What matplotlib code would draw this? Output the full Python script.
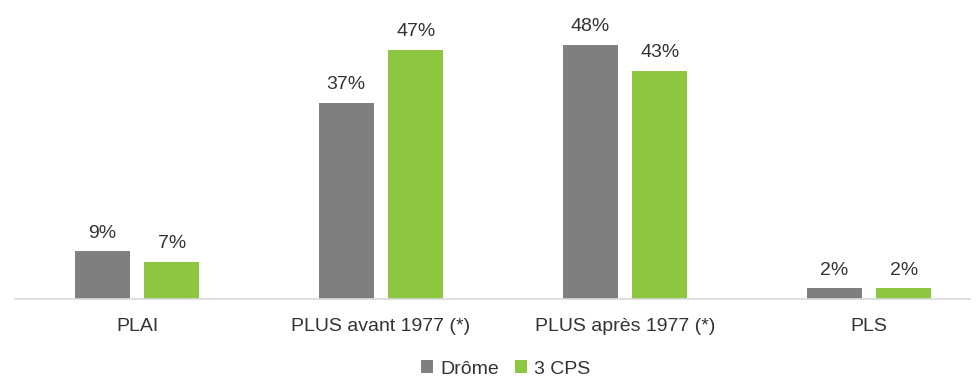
import matplotlib
matplotlib.use("Agg")
import matplotlib.pyplot as plt
import numpy as np

categories = ["PLAI", "PLUS avant 1977 (*)", "PLUS après 1977 (*)", "PLS"]
drome = [9, 37, 48, 2]
cps = [7, 47, 43, 2]
series_names = ["Drôme", "3 CPS"]
colors = ["#7f7f7f", "#8dc63f"]

plt.rcParams["font.family"] = ["Liberation Sans", "DejaVu Sans"]
text_color = "#333333"

fig = plt.figure(figsize=(9.77, 3.81), dpi=100)
# axes placed in pixels: left 15, right 970, baseline at y=299, top at y=20
W, H = 977, 381
ax = fig.add_axes([15 / W, (H - 299) / H, (970 - 15) / W, (299 - 20) / H])

x = np.arange(len(categories))
width = 0.225
offset = 0.143

for vals, name, color, sign in [(drome, series_names[0], colors[0], -1), (cps, series_names[1], colors[1], 1)]:
    bars = ax.bar(x + sign * offset, vals, width, color=color, label=name)
    for b, v in zip(bars, vals):
        ax.annotate(f"{v}%", (b.get_x() + b.get_width() / 2, v),
                    xytext=(0, 7), textcoords="offset points",
                    ha="center", va="bottom", fontsize=14, color=text_color)

ax.set_xlim(-0.5, -0.5 + 955 / 244)
ax.set_ylim(0, 279 / 5.3)
ax.set_xticks(x)
ax.set_xticklabels(categories, fontsize=14, color=text_color)
ax.tick_params(axis="x", length=0, pad=14)
ax.set_yticks([])
for s in ["top", "right", "left"]:
    ax.spines[s].set_visible(False)
ax.spines["bottom"].set_color("#d9d9d9")
ax.spines["bottom"].set_linewidth(1.2)

ax.legend(loc="center", bbox_to_anchor=(506 / W, (H - 369) / H), bbox_transform=fig.transFigure,
          ncol=2, frameon=False, fontsize=14, handlelength=0.6, handleheight=0.6,
          handletextpad=0.4, columnspacing=0.8, labelcolor=text_color)

fig.savefig("out.png", dpi=100)
